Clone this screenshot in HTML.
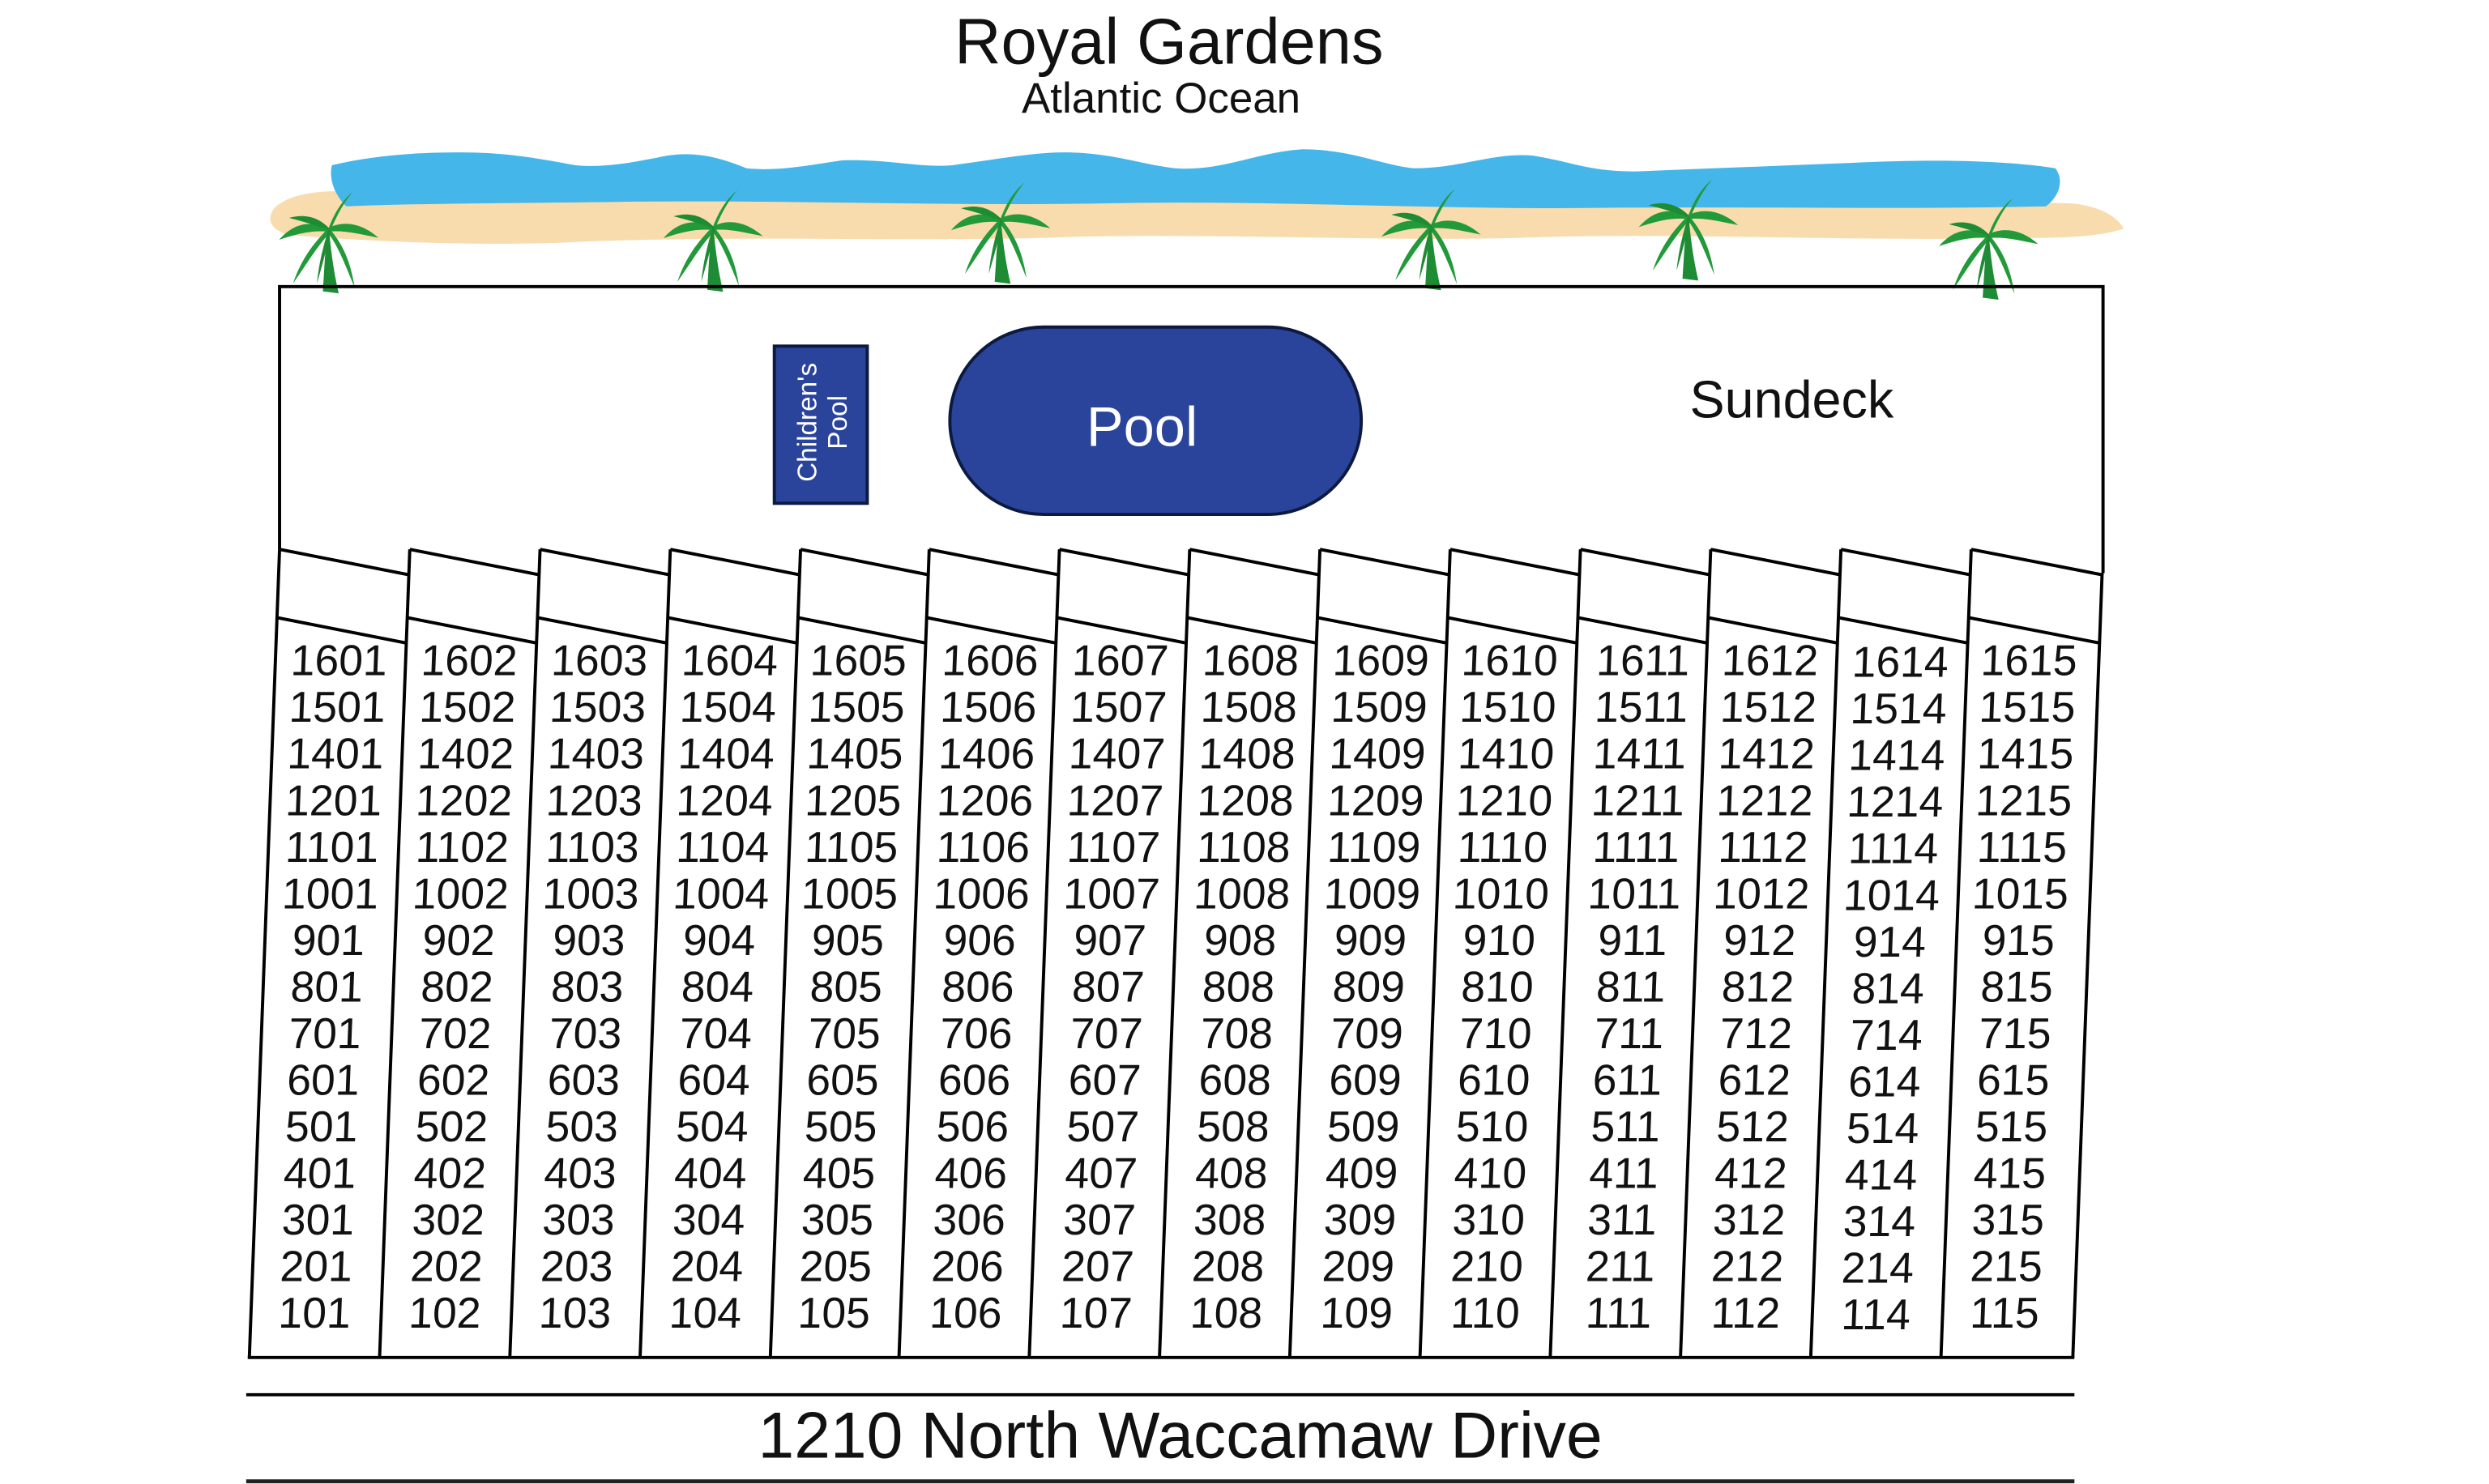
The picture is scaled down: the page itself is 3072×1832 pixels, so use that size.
<!DOCTYPE html>
<html><head><meta charset="utf-8"><style>
html,body{margin:0;padding:0;background:#fff;width:3072px;height:1832px;overflow:hidden}
svg{display:block}
text{font-family:"Liberation Sans",Arial,sans-serif}
</style></head><body>
<svg width="3072" height="1832" viewBox="0 0 1567 934.7" preserveAspectRatio="none" xmlns="http://www.w3.org/2000/svg">
<defs>
<g id="palm">
<path d="M-3,2 C-2,-12 -2,-20 0,-30 C1,-20 2,-10 5,3Z" fill="#1e8c34"/>
<path d="M0,-30 C-8,-22 -14,-14 -18,-2 C-11,-12 -7,-19 0,-27Z" fill="#229a3a"/>
<path d="M0,-30 C7,-22 11,-13 13,0 C8,-12 5,-20 0,-27Z" fill="#229a3a"/>
<path d="M0,-30 C-10,-34 -18,-32 -25,-24 C-16,-27 -8,-29 0,-28Z" fill="#229a3a"/>
<path d="M0,-30 C8,-34 17,-32 25,-25 C15,-27 7,-29 0,-28Z" fill="#229a3a"/>
<path d="M0,-30 C3,-38 7,-44 12,-48 C7,-42 4,-36 1,-29Z" fill="#229a3a"/>
<path d="M0,-30 C-6,-36 -13,-37 -20,-35 C-12,-33 -6,-31 0,-29Z" fill="#1e8c34"/>
<path d="M0,-30 C-3,-20 -5,-12 -6,-2 C-3,-12 -1,-20 1,-28Z" fill="#1e8c34"/>
</g>
</defs>

<text x="736" y="40" font-size="40.5" text-anchor="middle" fill="#111">Royal Gardens</text>
<text x="731" y="71" font-size="27" text-anchor="middle" fill="#111">Atlantic Ocean</text>

<!-- sand -->
<path d="M172,132 C180,122 205,118 230,122 C300,126 380,128 460,124 C560,120 650,126 750,124 C850,122 950,128 1050,126 C1150,124 1240,126 1300,128 C1315,128 1332,134 1337,144 C1320,150 1290,150 1260,150 C1150,152 1050,146 950,150 C850,152 750,146 650,150 C550,152 450,148 350,153 C280,155 220,151 182,148 C170,145 168,138 172,132Z" fill="#f9dcae"/>
<!-- ocean -->
<path d="M209,104 C235,98 260,96 290,96 C320,96 340,100 362,104 C380,106 400,102 420,98 C440,95 455,100 470,106 C490,108 510,104 530,101 C560,100 580,106 600,104 C630,100 650,96 670,96 C700,96 720,104 740,106 C770,108 790,96 820,94 C850,94 870,104 890,106 C920,106 940,96 965,98 C990,102 1000,108 1030,108 C1080,106 1130,104 1180,102 C1230,100 1270,102 1294,106 C1300,114 1296,124 1288,130 C1200,132 1100,130 1000,131 C900,132 800,126 700,128 C600,130 500,126 400,127 C330,128 260,128 218,130 C210,122 207,112 209,104Z" fill="#45b6e9"/>

<!-- palms -->
<use href="#palm" transform="translate(207,181) scale(1.25)"/>
<use href="#palm" transform="translate(449,180) scale(1.25)"/>
<use href="#palm" transform="translate(630,175) scale(1.25)"/>
<use href="#palm" transform="translate(901,179) scale(1.25)"/>
<use href="#palm" transform="translate(1063,173) scale(1.25)"/>
<use href="#palm" transform="translate(1252,185) scale(1.25)"/>

<!-- deck outline -->
<path d="M176,346 L176,180.5 L1324,180.5 L1324,361" fill="none" stroke="#000" stroke-width="2"/>

<!-- children's pool -->
<rect x="487.5" y="218" width="58.5" height="99" fill="#2a449c" stroke="#0d1a40" stroke-width="2"/>
<text transform="translate(516,266) rotate(-90)" font-size="17" fill="#fff" text-anchor="middle"><tspan x="0" dy="-2">Children's</tspan><tspan x="0" dy="19">Pool</tspan></text>
<!-- pool -->
<rect x="598" y="206" width="259" height="118" rx="59" ry="59" fill="#2a449c" stroke="#0d1a40" stroke-width="2"/>
<text x="719" y="281" font-size="35" fill="#fff" text-anchor="middle">Pool</text>
<text x="1128" y="263" font-size="33" fill="#111" text-anchor="middle">Sundeck</text>

<!-- columns, skewed -->
<g transform="translate(0,346) skewX(-2.14) translate(0,-346)" stroke="#000" stroke-width="2" fill="none">
<path d="M176,346V855M258,346V855M340,346V855M422,346V855M504,346V855M585,346V855M667,346V855M749,346V855M831,346V855M913,346V855M995,346V855M1077,346V855M1159,346V855M1241,346V855M1324,361V855"/>
<path d="M175,855H1325"/>
<path d="M176,346L258,362M258,346L340,362M340,346L422,362M422,346L504,362M504,346L585,362M585,346L667,362M667,346L749,362M749,346L831,362M831,346L913,362M913,346L995,362M995,346L1077,362M1077,346L1159,362M1159,346L1241,362M1241,346L1324,362"/>
<path d="M176,389L258,405M258,389L340,405M340,389L422,405M422,389L504,405M504,389L585,405M585,389L667,405M667,389L749,405M749,389L831,405M831,389L913,405M913,389L995,405M995,389L1077,405M1077,389L1159,405M1159,389L1241,405M1241,389L1324,405"/>
<g stroke="none" fill="#111" font-size="27.3" text-anchor="middle" font-family="Liberation Sans, Arial, sans-serif">
<text y="396"><tspan x="216" dy="29.35">1601</tspan><tspan x="216" dy="29.35">1501</tspan><tspan x="216" dy="29.35">1401</tspan><tspan x="216" dy="29.35">1201</tspan><tspan x="216" dy="29.35">1101</tspan><tspan x="216" dy="29.35">1001</tspan><tspan x="216" dy="29.35">901</tspan><tspan x="216" dy="29.35">801</tspan><tspan x="216" dy="29.35">701</tspan><tspan x="216" dy="29.35">601</tspan><tspan x="216" dy="29.35">501</tspan><tspan x="216" dy="29.35">401</tspan><tspan x="216" dy="29.35">301</tspan><tspan x="216" dy="29.35">201</tspan><tspan x="216" dy="29.35">101</tspan></text>
<text y="396"><tspan x="298" dy="29.35">1602</tspan><tspan x="298" dy="29.35">1502</tspan><tspan x="298" dy="29.35">1402</tspan><tspan x="298" dy="29.35">1202</tspan><tspan x="298" dy="29.35">1102</tspan><tspan x="298" dy="29.35">1002</tspan><tspan x="298" dy="29.35">902</tspan><tspan x="298" dy="29.35">802</tspan><tspan x="298" dy="29.35">702</tspan><tspan x="298" dy="29.35">602</tspan><tspan x="298" dy="29.35">502</tspan><tspan x="298" dy="29.35">402</tspan><tspan x="298" dy="29.35">302</tspan><tspan x="298" dy="29.35">202</tspan><tspan x="298" dy="29.35">102</tspan></text>
<text y="396"><tspan x="380" dy="29.35">1603</tspan><tspan x="380" dy="29.35">1503</tspan><tspan x="380" dy="29.35">1403</tspan><tspan x="380" dy="29.35">1203</tspan><tspan x="380" dy="29.35">1103</tspan><tspan x="380" dy="29.35">1003</tspan><tspan x="380" dy="29.35">903</tspan><tspan x="380" dy="29.35">803</tspan><tspan x="380" dy="29.35">703</tspan><tspan x="380" dy="29.35">603</tspan><tspan x="380" dy="29.35">503</tspan><tspan x="380" dy="29.35">403</tspan><tspan x="380" dy="29.35">303</tspan><tspan x="380" dy="29.35">203</tspan><tspan x="380" dy="29.35">103</tspan></text>
<text y="396"><tspan x="462" dy="29.35">1604</tspan><tspan x="462" dy="29.35">1504</tspan><tspan x="462" dy="29.35">1404</tspan><tspan x="462" dy="29.35">1204</tspan><tspan x="462" dy="29.35">1104</tspan><tspan x="462" dy="29.35">1004</tspan><tspan x="462" dy="29.35">904</tspan><tspan x="462" dy="29.35">804</tspan><tspan x="462" dy="29.35">704</tspan><tspan x="462" dy="29.35">604</tspan><tspan x="462" dy="29.35">504</tspan><tspan x="462" dy="29.35">404</tspan><tspan x="462" dy="29.35">304</tspan><tspan x="462" dy="29.35">204</tspan><tspan x="462" dy="29.35">104</tspan></text>
<text y="396"><tspan x="543" dy="29.35">1605</tspan><tspan x="543" dy="29.35">1505</tspan><tspan x="543" dy="29.35">1405</tspan><tspan x="543" dy="29.35">1205</tspan><tspan x="543" dy="29.35">1105</tspan><tspan x="543" dy="29.35">1005</tspan><tspan x="543" dy="29.35">905</tspan><tspan x="543" dy="29.35">805</tspan><tspan x="543" dy="29.35">705</tspan><tspan x="543" dy="29.35">605</tspan><tspan x="543" dy="29.35">505</tspan><tspan x="543" dy="29.35">405</tspan><tspan x="543" dy="29.35">305</tspan><tspan x="543" dy="29.35">205</tspan><tspan x="543" dy="29.35">105</tspan></text>
<text y="396"><tspan x="626" dy="29.35">1606</tspan><tspan x="626" dy="29.35">1506</tspan><tspan x="626" dy="29.35">1406</tspan><tspan x="626" dy="29.35">1206</tspan><tspan x="626" dy="29.35">1106</tspan><tspan x="626" dy="29.35">1006</tspan><tspan x="626" dy="29.35">906</tspan><tspan x="626" dy="29.35">806</tspan><tspan x="626" dy="29.35">706</tspan><tspan x="626" dy="29.35">606</tspan><tspan x="626" dy="29.35">506</tspan><tspan x="626" dy="29.35">406</tspan><tspan x="626" dy="29.35">306</tspan><tspan x="626" dy="29.35">206</tspan><tspan x="626" dy="29.35">106</tspan></text>
<text y="396"><tspan x="708" dy="29.35">1607</tspan><tspan x="708" dy="29.35">1507</tspan><tspan x="708" dy="29.35">1407</tspan><tspan x="708" dy="29.35">1207</tspan><tspan x="708" dy="29.35">1107</tspan><tspan x="708" dy="29.35">1007</tspan><tspan x="708" dy="29.35">907</tspan><tspan x="708" dy="29.35">807</tspan><tspan x="708" dy="29.35">707</tspan><tspan x="708" dy="29.35">607</tspan><tspan x="708" dy="29.35">507</tspan><tspan x="708" dy="29.35">407</tspan><tspan x="708" dy="29.35">307</tspan><tspan x="708" dy="29.35">207</tspan><tspan x="708" dy="29.35">107</tspan></text>
<text y="396"><tspan x="790" dy="29.35">1608</tspan><tspan x="790" dy="29.35">1508</tspan><tspan x="790" dy="29.35">1408</tspan><tspan x="790" dy="29.35">1208</tspan><tspan x="790" dy="29.35">1108</tspan><tspan x="790" dy="29.35">1008</tspan><tspan x="790" dy="29.35">908</tspan><tspan x="790" dy="29.35">808</tspan><tspan x="790" dy="29.35">708</tspan><tspan x="790" dy="29.35">608</tspan><tspan x="790" dy="29.35">508</tspan><tspan x="790" dy="29.35">408</tspan><tspan x="790" dy="29.35">308</tspan><tspan x="790" dy="29.35">208</tspan><tspan x="790" dy="29.35">108</tspan></text>
<text y="396"><tspan x="872" dy="29.35">1609</tspan><tspan x="872" dy="29.35">1509</tspan><tspan x="872" dy="29.35">1409</tspan><tspan x="872" dy="29.35">1209</tspan><tspan x="872" dy="29.35">1109</tspan><tspan x="872" dy="29.35">1009</tspan><tspan x="872" dy="29.35">909</tspan><tspan x="872" dy="29.35">809</tspan><tspan x="872" dy="29.35">709</tspan><tspan x="872" dy="29.35">609</tspan><tspan x="872" dy="29.35">509</tspan><tspan x="872" dy="29.35">409</tspan><tspan x="872" dy="29.35">309</tspan><tspan x="872" dy="29.35">209</tspan><tspan x="872" dy="29.35">109</tspan></text>
<text y="396"><tspan x="953" dy="29.35">1610</tspan><tspan x="953" dy="29.35">1510</tspan><tspan x="953" dy="29.35">1410</tspan><tspan x="953" dy="29.35">1210</tspan><tspan x="953" dy="29.35">1110</tspan><tspan x="953" dy="29.35">1010</tspan><tspan x="953" dy="29.35">910</tspan><tspan x="953" dy="29.35">810</tspan><tspan x="953" dy="29.35">710</tspan><tspan x="953" dy="29.35">610</tspan><tspan x="953" dy="29.35">510</tspan><tspan x="953" dy="29.35">410</tspan><tspan x="953" dy="29.35">310</tspan><tspan x="953" dy="29.35">210</tspan><tspan x="953" dy="29.35">110</tspan></text>
<text y="396"><tspan x="1037" dy="29.35">1611</tspan><tspan x="1037" dy="29.35">1511</tspan><tspan x="1037" dy="29.35">1411</tspan><tspan x="1037" dy="29.35">1211</tspan><tspan x="1037" dy="29.35">1111</tspan><tspan x="1037" dy="29.35">1011</tspan><tspan x="1037" dy="29.35">911</tspan><tspan x="1037" dy="29.35">811</tspan><tspan x="1037" dy="29.35">711</tspan><tspan x="1037" dy="29.35">611</tspan><tspan x="1037" dy="29.35">511</tspan><tspan x="1037" dy="29.35">411</tspan><tspan x="1037" dy="29.35">311</tspan><tspan x="1037" dy="29.35">211</tspan><tspan x="1037" dy="29.35">111</tspan></text>
<text y="396"><tspan x="1117" dy="29.35">1612</tspan><tspan x="1117" dy="29.35">1512</tspan><tspan x="1117" dy="29.35">1412</tspan><tspan x="1117" dy="29.35">1212</tspan><tspan x="1117" dy="29.35">1112</tspan><tspan x="1117" dy="29.35">1012</tspan><tspan x="1117" dy="29.35">912</tspan><tspan x="1117" dy="29.35">812</tspan><tspan x="1117" dy="29.35">712</tspan><tspan x="1117" dy="29.35">612</tspan><tspan x="1117" dy="29.35">512</tspan><tspan x="1117" dy="29.35">412</tspan><tspan x="1117" dy="29.35">312</tspan><tspan x="1117" dy="29.35">212</tspan><tspan x="1117" dy="29.35">112</tspan></text>
<text y="397"><tspan x="1199" dy="29.35">1614</tspan><tspan x="1199" dy="29.35">1514</tspan><tspan x="1199" dy="29.35">1414</tspan><tspan x="1199" dy="29.35">1214</tspan><tspan x="1199" dy="29.35">1114</tspan><tspan x="1199" dy="29.35">1014</tspan><tspan x="1199" dy="29.35">914</tspan><tspan x="1199" dy="29.35">814</tspan><tspan x="1199" dy="29.35">714</tspan><tspan x="1199" dy="29.35">614</tspan><tspan x="1199" dy="29.35">514</tspan><tspan x="1199" dy="29.35">414</tspan><tspan x="1199" dy="29.35">314</tspan><tspan x="1199" dy="29.35">214</tspan><tspan x="1199" dy="29.35">114</tspan></text>
<text y="396"><tspan x="1280" dy="29.35">1615</tspan><tspan x="1280" dy="29.35">1515</tspan><tspan x="1280" dy="29.35">1415</tspan><tspan x="1280" dy="29.35">1215</tspan><tspan x="1280" dy="29.35">1115</tspan><tspan x="1280" dy="29.35">1015</tspan><tspan x="1280" dy="29.35">915</tspan><tspan x="1280" dy="29.35">815</tspan><tspan x="1280" dy="29.35">715</tspan><tspan x="1280" dy="29.35">615</tspan><tspan x="1280" dy="29.35">515</tspan><tspan x="1280" dy="29.35">415</tspan><tspan x="1280" dy="29.35">315</tspan><tspan x="1280" dy="29.35">215</tspan><tspan x="1280" dy="29.35">115</tspan></text>
</g>
</g>

<!-- road -->
<line x1="155" y1="878.5" x2="1306" y2="878.5" stroke="#000" stroke-width="2"/>
<line x1="155" y1="933" x2="1306" y2="933" stroke="#222" stroke-width="2.5"/>
<text x="743" y="918" font-size="41" text-anchor="middle" fill="#111">1210 North Waccamaw Drive</text>
</svg>
</body></html>
